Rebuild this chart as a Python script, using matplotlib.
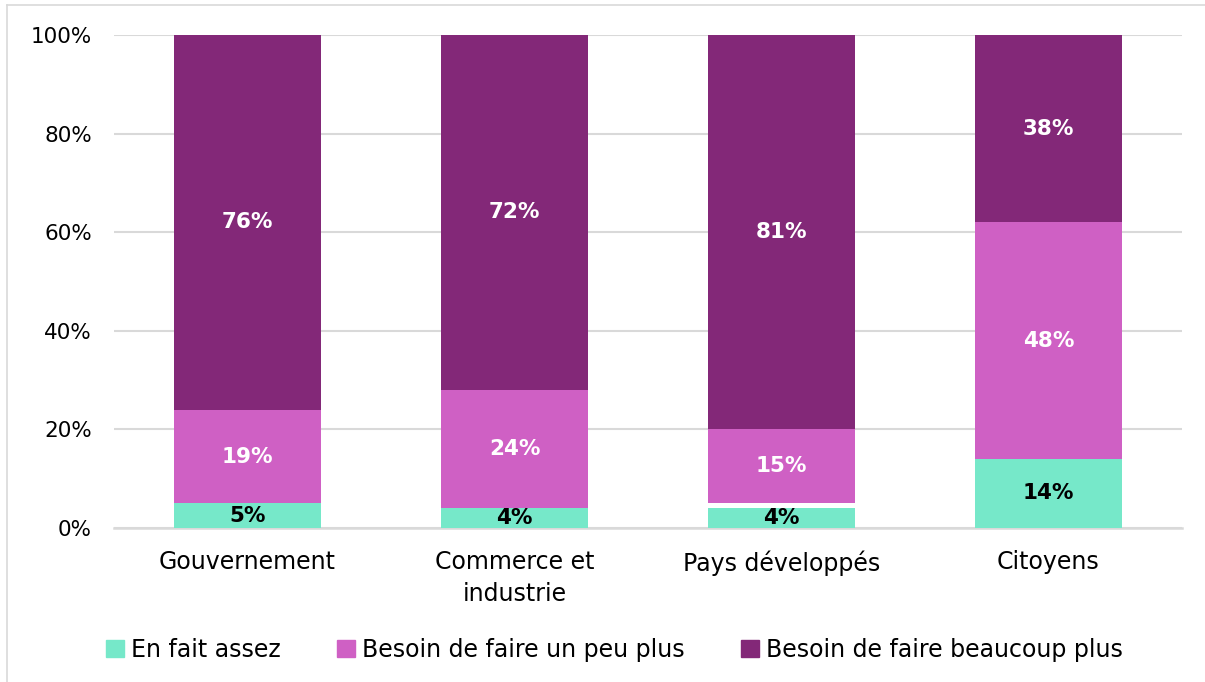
import matplotlib.pyplot as plt
from matplotlib.patches import Patch
from matplotlib.lines import Line2D
import numpy as np

plt.rcParams['font.family'] = ['DejaVu Sans']

categories = ['Gouvernement', 'Commerce et\nindustrie', 'Pays développés', 'Citoyens']
series_names = ['En fait assez', 'Besoin de faire un peu plus', 'Besoin de faire beaucoup plus']
assez = [5, 4, 4, 14]
gap = [0, 0, 1, 0]  # small unlabelled share (blank)
peu_plus = [19, 24, 15, 48]
beaucoup_plus = [76, 72, 80, 38]
beaucoup_labels = ['76%', '72%', '81%', '38%']

colors = ['#76E8C9', '#CF60C4', '#832878']

fig = plt.figure(figsize=(12.05, 6.82), dpi=100)
ax = fig.add_axes([114 / 1205, 154 / 682, 1068 / 1205, 493 / 682])

x = np.arange(len(categories))
w = 0.55
bottom = np.zeros(len(categories))

b1 = ax.bar(x, assez, w, bottom=bottom, color=colors[0], zorder=3)
bottom += assez
ax.bar(x, gap, w, bottom=bottom, color='white', zorder=3)
bottom += gap
b2 = ax.bar(x, peu_plus, w, bottom=bottom, color=colors[1], zorder=3)
bottom += peu_plus
b3 = ax.bar(x, beaucoup_plus, w, bottom=bottom, color=colors[2], zorder=3)

lab_kw = dict(label_type='center', fontsize=15.5, fontweight='bold', zorder=4)
ax.bar_label(b1, labels=[f'{v}%' for v in assez], color='black', **lab_kw)
ax.bar_label(b2, labels=[f'{v}%' for v in peu_plus], color='white', **lab_kw)
ax.bar_label(b3, labels=beaucoup_labels, color='white', **lab_kw)

ax.set_xlim(-0.5, len(categories) - 0.5)
ax.set_ylim(0, 100)
ax.set_yticks(range(0, 101, 20))
ax.set_yticklabels([f'{v}%' for v in range(0, 101, 20)], fontsize=15.5)
ax.set_xticks(x)
ax.set_xticklabels(categories, fontsize=17, linespacing=1.4)
ax.tick_params(length=0)
ax.tick_params(axis='x', pad=16)
ax.tick_params(axis='y', pad=16)
ax.yaxis.grid(True, color='#D9D9D9', linewidth=1.5, zorder=0)
ax.axhline(0, color='#D9D9D9', linewidth=1.8, zorder=1, clip_on=False)
for s in ax.spines.values():
    s.set_visible(False)

handles = [Patch(color=c) for c in colors]
fig.legend(handles, series_names, loc='center', bbox_to_anchor=(0.51, 0.047),
           ncol=3, frameon=False, fontsize=17, handlelength=0.75, handleheight=0.75,
           handletextpad=0.3, columnspacing=2.4)

# chart frame (left and top edges visible)
fig.add_artist(Line2D([7 / 1205, 7 / 1205], [0, 1 - 5 / 682], color='#D9D9D9', lw=1.2))
fig.add_artist(Line2D([7 / 1205, 1], [1 - 5 / 682, 1 - 5 / 682], color='#D9D9D9', lw=1.2))

fig.savefig('out.png', dpi=100)
